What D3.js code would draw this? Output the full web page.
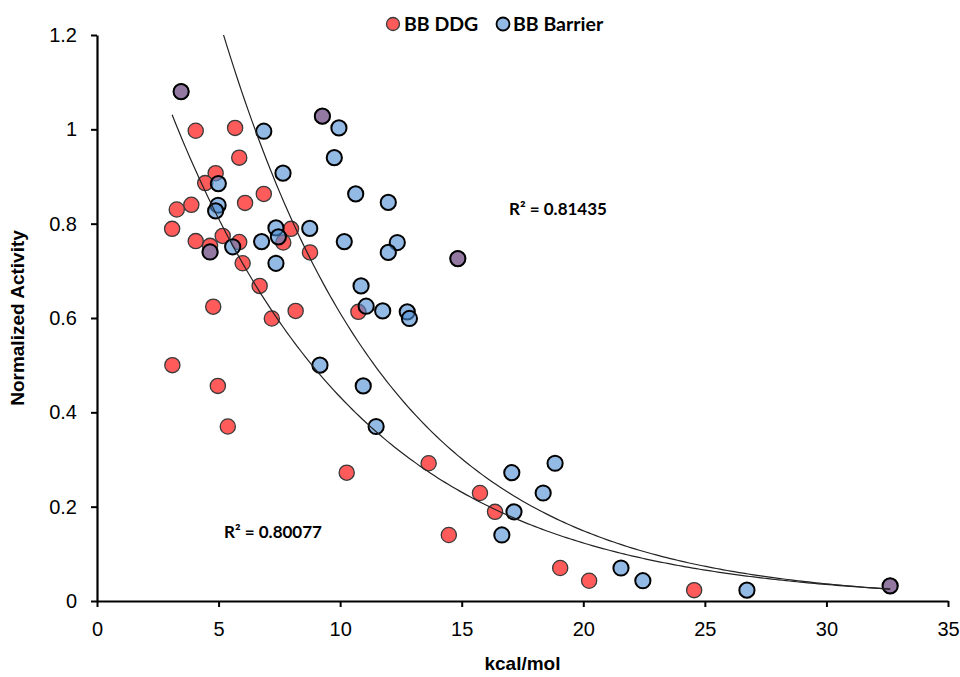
<!DOCTYPE html>
<html>
<head>
<meta charset="utf-8">
<script src="https://cdn.jsdelivr.net/npm/d3@7"></script>
<style>
  body { margin: 0; background: #fff; }
  svg { display: block; }
</style>
</head>
<body>
<svg id="chart" width="960" height="677"></svg>
<script>
// BB DDG (red) : kcal/mol, normalized activity
var ddgX = [3.46, 4.06, 5.68, 5.85, 4.88, 4.45, 6.86, 6.09, 3.88, 3.28, 3.09, 7.98, 4.06, 5.17, 5.85, 7.66, 4.65, 4.65, 8.76, 5.99,
            6.69, 4.78, 8.17, 7.19, 3.10, 4.97, 5.38, 10.75, 10.27, 13.64, 15.75, 16.37, 14.47, 19.05, 20.24, 24.56, 32.62, 9.27, 14.84];
var ddgY = [1.08, 0.997, 1.003, 0.94, 0.907, 0.886, 0.863, 0.844, 0.84, 0.83, 0.789, 0.789, 0.763, 0.774, 0.761, 0.76, 0.753, 0.74, 0.739, 0.716,
            0.668, 0.624, 0.615, 0.599, 0.5, 0.456, 0.37, 0.613, 0.272, 0.292, 0.229, 0.189, 0.14, 0.07, 0.043, 0.023, 0.032, 1.028, 0.726];

// BB Barrier (blue)
var barX = [3.46, 6.86, 9.27, 9.95, 9.76, 7.65, 4.99, 4.98, 4.88, 10.64, 11.98, 7.36, 7.46, 8.75, 6.77, 5.58, 4.65, 10.17, 12.35, 11.98,
            14.84, 7.36, 10.86, 11.07, 11.75, 12.76, 12.85, 9.17, 10.95, 11.48, 17.06, 18.84, 18.35, 17.15, 16.65, 21.55, 22.45, 26.73, 32.62];
var barY = [1.08, 0.996, 1.028, 1.003, 0.94, 0.907, 0.885, 0.839, 0.827, 0.863, 0.845, 0.791, 0.772, 0.79, 0.762, 0.751, 0.74, 0.762, 0.76, 0.739,
            0.726, 0.716, 0.668, 0.625, 0.615, 0.613, 0.599, 0.5, 0.456, 0.37, 0.272, 0.292, 0.229, 0.189, 0.14, 0.07, 0.043, 0.023, 0.032];

// exponential trendlines y = a * exp(b * x)
var ddgFit = [1.52, -0.1257];
var barFit = [2.5, -0.141];
var fitLabels = ["R² = 0.80077", "R² = 0.81435"];

var xTicks = [0, 5, 10, 15, 20, 25, 30, 35];
var yTicks = [0, 0.2, 0.4, 0.6, 0.8, 1, 1.2];

var dimensions = {
    width: 960,
    height: 677,
    margin: { top: 35, bottom: 76, right: 12, left: 97 }
}

var svg = d3.select("#chart")

var xScale = d3.scaleLinear()
               .domain([0, 35])
               .range([dimensions.margin.left, dimensions.width - dimensions.margin.right])

var yScale = d3.scaleLinear()
               .domain([0, 1.2])
               .range([dimensions.height - dimensions.margin.bottom, dimensions.margin.top])

svg.append("clipPath").attr("id", "plot")
   .append("rect")
   .attr("x", xScale(0)).attr("y", yScale(1.2))
   .attr("width", xScale(35) - xScale(0))
   .attr("height", yScale(0) - yScale(1.2))

var axisFont = "'Liberation Sans', Arial, sans-serif"
var boldFont = "Lato, 'Open Sans', sans-serif"

// axes
var xAxisGen = d3.axisBottom(xScale).tickValues(xTicks).tickSize(6).tickSizeOuter(0).tickPadding(15)
var xAxis = svg.append("g")
               .attr("transform", `translate(0,${yScale(0)})`)
               .call(xAxisGen)
xAxis.select(".domain").attr("stroke", "#000").attr("stroke-width", 2.2)
xAxis.selectAll(".tick line").attr("stroke", "#000").attr("stroke-width", 2)
xAxis.selectAll("text")
     .style("font-family", axisFont)
     .style("font-size", "20px")
     .attr("fill", "#000")

var yAxisGen = d3.axisLeft(yScale).tickValues(yTicks).tickSize(6).tickSizeOuter(0).tickPadding(14)
               .tickFormat(d3.format("~g"))
var yAxis = svg.append("g")
               .attr("transform", `translate(${xScale(0)},0)`)
               .call(yAxisGen)
yAxis.select(".domain").attr("stroke", "#000").attr("stroke-width", 2.2)
yAxis.selectAll(".tick line").attr("stroke", "#000").attr("stroke-width", 2)
yAxis.selectAll("text")
     .style("font-family", axisFont)
     .style("font-size", "20px")
     .attr("fill", "#000")

// axis titles
svg.append("text")
   .attr("x", (xScale(0) + xScale(35)) / 2)
   .attr("y", 670)
   .attr("text-anchor", "middle")
   .style("font-family", axisFont)
   .style("font-size", "19px")
   .style("font-weight", "bold")
   .text("kcal/mol")

svg.append("text")
   .attr("transform", `translate(24,${yScale(0.6)}) rotate(-90)`)
   .attr("text-anchor", "middle")
   .style("font-family", axisFont)
   .style("font-size", "19px")
   .style("font-weight", "bold")
   .text("Normalized Activity")

// points
var ddg = ddgX.map((x, i) => ({ x: x, y: ddgY[i] }))
var bar = barX.map((x, i) => ({ x: x, y: barY[i] }))

svg.append("g")
   .selectAll("circle")
   .data(ddg)
   .enter()
   .append("circle")
   .attr("cx", d => xScale(d.x))
   .attr("cy", d => yScale(d.y))
   .attr("r", 7.6)
   .attr("fill", "#ff5b5b")
   .attr("stroke", "#3a3a3a")
   .attr("stroke-width", 1.3)

svg.append("g")
   .selectAll("circle")
   .data(bar)
   .enter()
   .append("circle")
   .attr("cx", d => xScale(d.x))
   .attr("cy", d => yScale(d.y))
   .attr("r", 7.6)
   .attr("fill", "rgb(75,140,210)")
   .attr("fill-opacity", 0.6)
   .attr("stroke", "#000")
   .attr("stroke-width", 2)

// trendlines
var trend = d3.line().x(d => xScale(d[0])).y(d => yScale(d[1]))

function fitPoints(xs, fit) {
    var lo = d3.min(xs), hi = d3.max(xs)
    return d3.range(0, 201).map(i => {
        var x = lo + (hi - lo) * i / 200
        return [x, fit[0] * Math.exp(fit[1] * x)]
    })
}

svg.append("path")
   .attr("d", trend(fitPoints(ddgX, ddgFit)))
   .attr("clip-path", "url(#plot)")
   .attr("fill", "none")
   .attr("stroke", "#222")
   .attr("stroke-width", 1.2)

svg.append("path")
   .attr("d", trend(fitPoints(barX, barFit)))
   .attr("clip-path", "url(#plot)")
   .attr("fill", "none")
   .attr("stroke", "#222")
   .attr("stroke-width", 1.2)

// R² labels
svg.append("text")
   .attr("x", 224).attr("y", 538)
   .style("font-family", boldFont)
   .style("font-size", "17px")
   .style("font-weight", "bold")
   .text(fitLabels[0])

svg.append("text")
   .attr("x", 509).attr("y", 215)
   .style("font-family", boldFont)
   .style("font-size", "17px")
   .style("font-weight", "bold")
   .text(fitLabels[1])

// legend
var legend = svg.append("g").attr("transform", "translate(0,24)")
legend.append("circle").attr("cx", 393).attr("cy", 0).attr("r", 6.5)
      .attr("fill", "#ff5b5b").attr("stroke", "#3a3a3a").attr("stroke-width", 1.3)
legend.append("text").attr("x", 404).attr("y", 7)
      .style("font-family", boldFont)
      .style("font-size", "19.5px").style("font-weight", "bold")
      .text("BB DDG")
legend.append("circle").attr("cx", 503).attr("cy", 0).attr("r", 6.5)
      .attr("fill", "rgb(75,140,210)").attr("fill-opacity", 0.6)
      .attr("stroke", "#000").attr("stroke-width", 1.8)
legend.append("text").attr("x", 513).attr("y", 7)
      .style("font-family", boldFont)
      .style("font-size", "19.5px").style("font-weight", "bold")
      .text("BB Barrier")
</script>
</body>
</html>
